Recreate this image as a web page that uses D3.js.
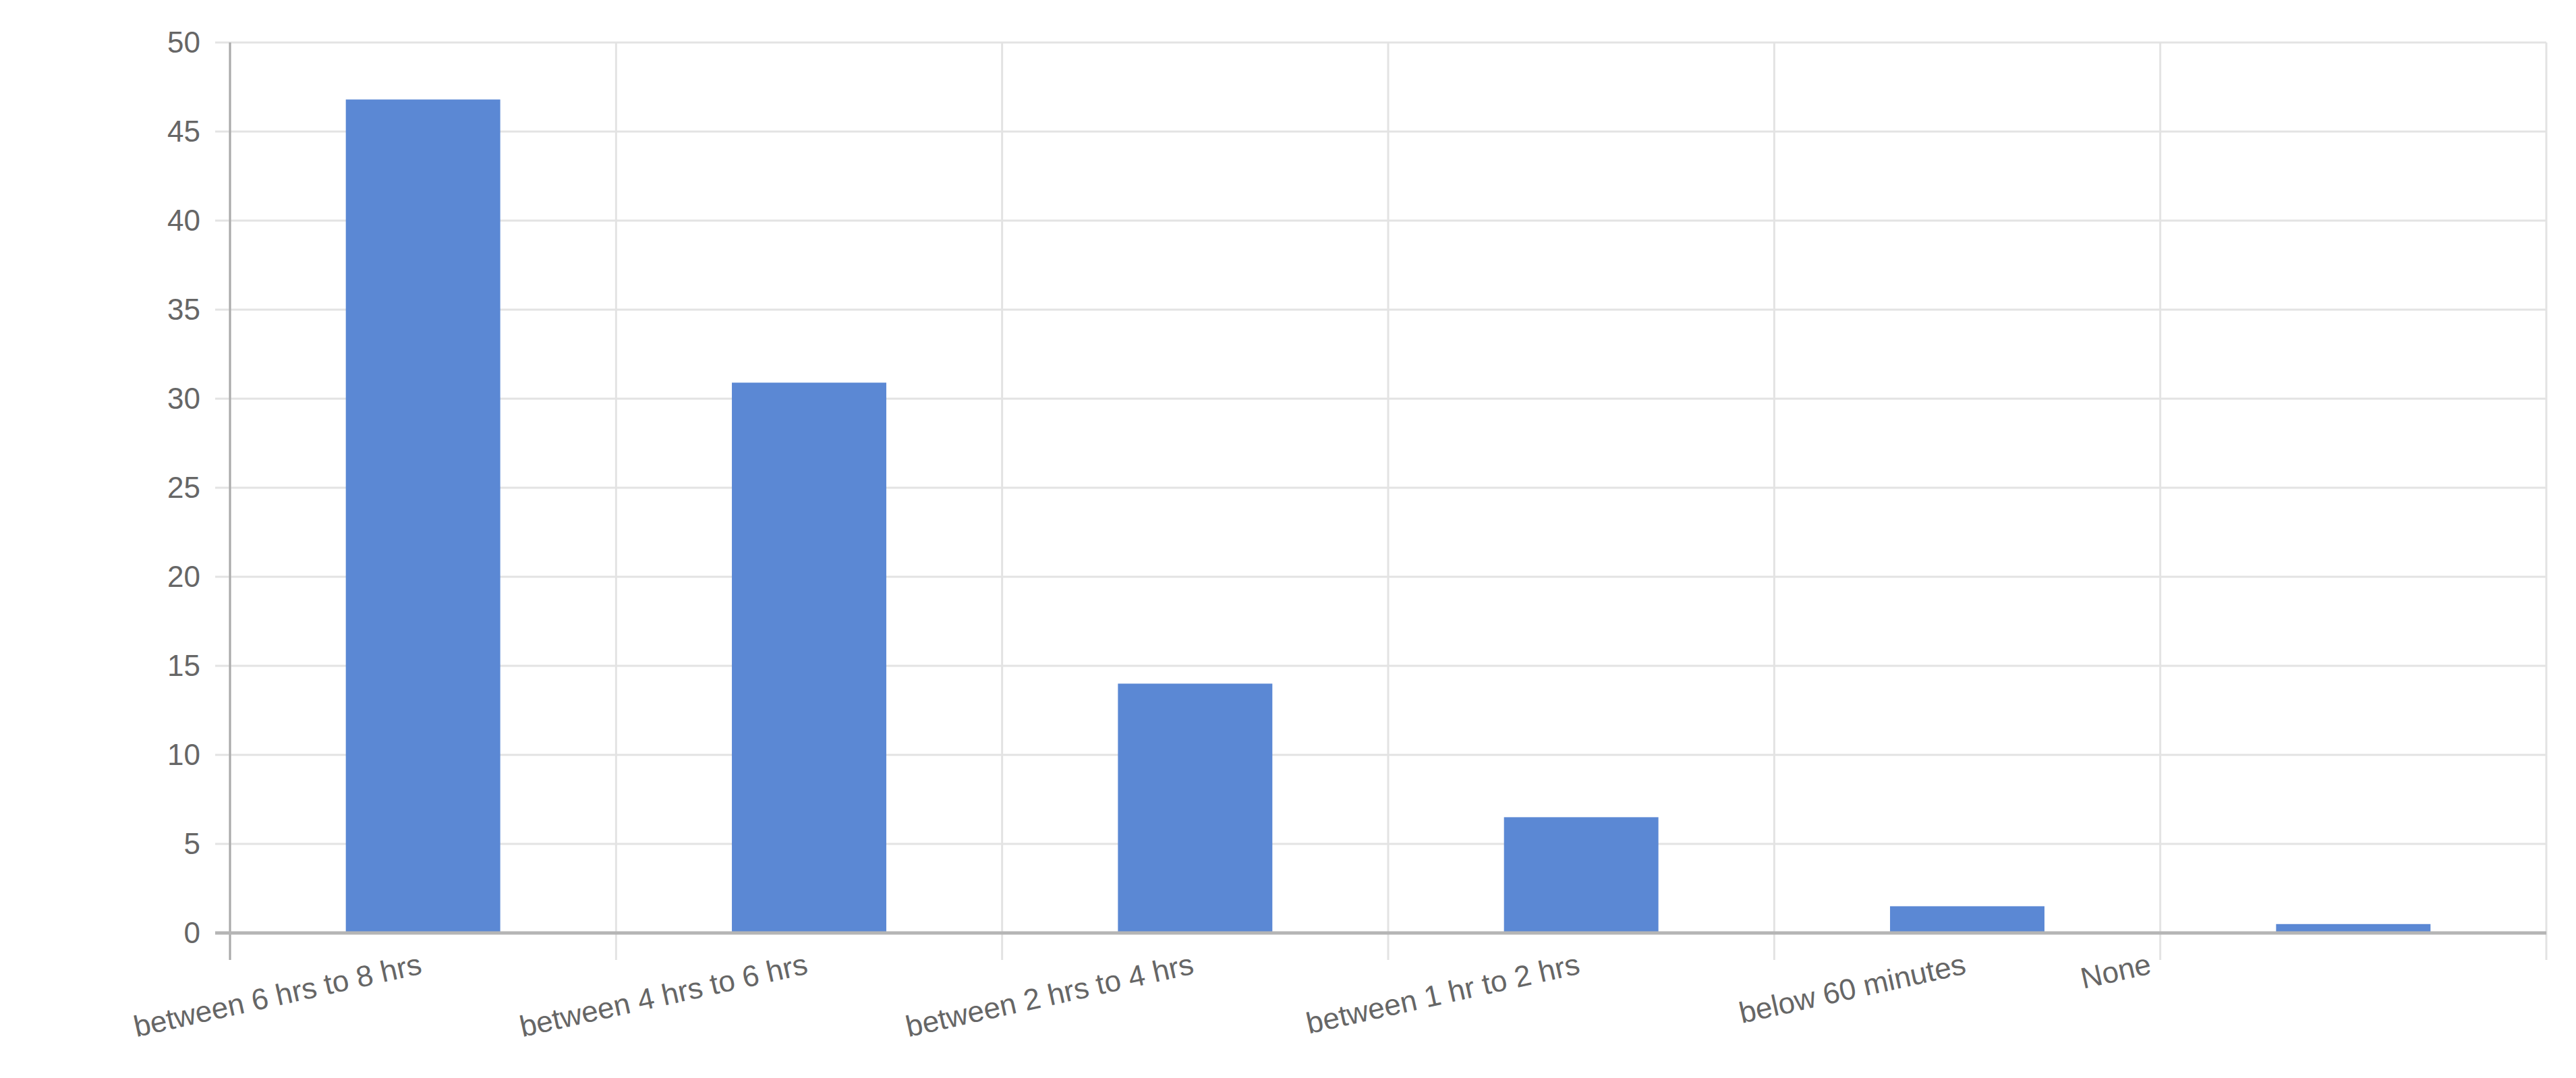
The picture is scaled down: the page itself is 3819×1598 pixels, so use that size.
<!DOCTYPE html>
<html><head><meta charset="utf-8">
<script src="https://cdn.jsdelivr.net/npm/d3@7"></script>
<style>body{margin:0;background:#fff}</style></head>
<body><svg id="c" width="3819" height="1598"></svg>
<script>
const categories = ["between  6 hrs to 8 hrs","between 4 hrs to 6 hrs","between 2 hrs to 4 hrs","between 1 hr to 2 hrs","below 60 minutes","None"];
const values = [46.8, 30.9, 14, 6.5, 1.5, 0.5];
const yTicks = [0,5,10,15,20,25,30,35,40,45,50];

const svg = d3.select("#c");
const L=341, R=3775, T=63, B=1383;
const x = d3.scaleBand().domain(categories).range([L,R]).paddingInner(0.6).paddingOuter(0.3);
const y = d3.scaleLinear().domain([0,50]).range([B,T]);
const band = (R-L)/categories.length;

// horizontal grid
svg.append("g").selectAll("line").data(yTicks).join("line")
  .attr("x1",L-22).attr("x2",R).attr("y1",d=>y(d)).attr("y2",d=>y(d))
  .attr("stroke","#e3e3e3").attr("stroke-width",3);
// vertical grid
svg.append("g").selectAll("line").data(d3.range(categories.length+1)).join("line")
  .attr("x1",i=>L+i*band).attr("x2",i=>L+i*band).attr("y1",T).attr("y2",B+40)
  .attr("stroke","#e3e3e3").attr("stroke-width",3);

// bars
svg.append("g").selectAll("rect").data(values).join("rect")
  .attr("x",(d,i)=>x(categories[i])).attr("width",x.bandwidth())
  .attr("y",d=>y(d)).attr("height",d=>B-y(d))
  .attr("fill","#5b88d4");

// axes lines
svg.append("line").attr("x1",L).attr("x2",L).attr("y1",T).attr("y2",B+40).attr("stroke","#aaa").attr("stroke-width",3);
svg.append("line").attr("x1",L-22).attr("x2",R).attr("y1",B).attr("y2",B).attr("stroke","#b5b5b5").attr("stroke-width",5);

// y labels
const yAxis = d3.axisLeft(y).tickValues(yTicks).tickSize(0).tickPadding(44);
const gy = svg.append("g").attr("transform",`translate(${L},0)`).call(yAxis);
gy.select(".domain").remove();
gy.selectAll("text").attr("font-family","Arial, Liberation Sans, sans-serif").attr("font-size",44).attr("fill","#666");

// x labels
const xAxis = d3.axisBottom(x).tickSize(0).tickPadding(0);
const gx = svg.append("g").attr("transform",`translate(0,${B})`).call(xAxis);
gx.select(".domain").remove();
gx.selectAll("text").attr("font-family","Arial, Liberation Sans, sans-serif").attr("font-size",44).attr("fill","#666")
  .attr("text-anchor","end").attr("dy",0)
  .attr("transform",(d,i)=>`translate(${d==="None"? -x.bandwidth()*1.3 : 0},60) rotate(-12.5)`);
</script></body></html>
